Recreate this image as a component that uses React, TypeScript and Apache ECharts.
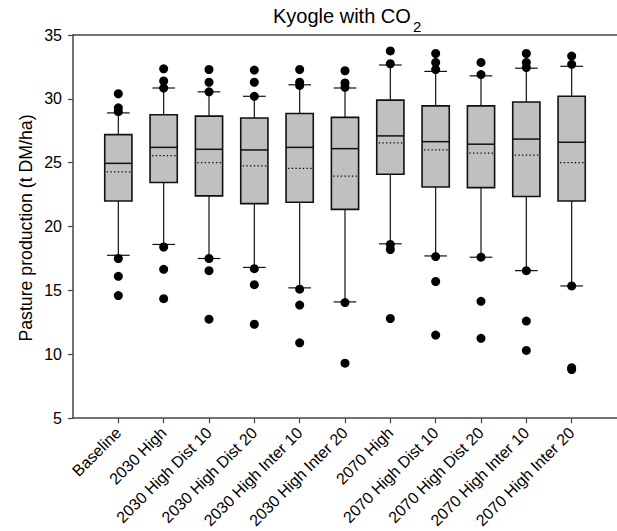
import React, { useEffect, useRef } from "react";
import * as echarts from "echarts";

const categories = [
  "Baseline",
  "2030 High",
  "2030 High Dist 10",
  "2030 High Dist 20",
  "2030 High Inter 10",
  "2030 High Inter 20",
  "2070 High",
  "2070 High Dist 10",
  "2070 High Dist 20",
  "2070 High Inter 10",
  "2070 High Inter 20",
];

const whiskerLow = [17.75, 18.6, 17.5, 16.8, 15.2, 14.1, 18.65, 17.7, 17.6, 16.55, 15.35];
const q1 = [22.0, 23.45, 22.4, 21.8, 21.9, 21.35, 24.1, 23.1, 23.05, 22.35, 22.0];
const medians = [24.95, 26.2, 26.05, 26.0, 26.2, 26.1, 27.1, 26.65, 26.45, 26.85, 26.6];
const q3 = [27.2, 28.75, 28.65, 28.5, 28.85, 28.55, 29.9, 29.45, 29.45, 29.75, 30.2];
const whiskerHigh = [28.9, 30.85, 30.55, 30.2, 31.1, 30.85, 32.65, 32.15, 31.8, 32.4, 32.55];
const means = [24.28, 25.55, 25.0, 24.75, 24.55, 23.95, 26.55, 26.0, 25.75, 25.6, 25.0];
const outliers = [
  [30.4, 29.3, 29.0, 17.5, 16.1, 14.6],
  [32.35, 31.4, 30.85, 18.4, 16.65, 14.35],
  [32.3, 31.3, 30.55, 17.5, 16.55, 12.75],
  [32.25, 31.3, 30.2, 16.7, 15.45, 12.35],
  [32.3, 31.3, 31.05, 15.1, 13.85, 10.9],
  [32.2, 31.25, 30.9, 14.05, 9.3],
  [33.75, 32.75, 18.6, 18.2, 12.8],
  [33.55, 32.85, 32.3, 17.65, 15.7, 11.5],
  [32.85, 31.9, 17.6, 14.15, 11.25],
  [33.55, 32.85, 32.45, 16.55, 12.6, 10.3],
  [33.35, 32.7, 15.35, 8.95, 8.8],
];
const yTicks = { min: 5, max: 35, interval: 5 };

const FONT = "'Liberation Sans', Arial, Helvetica, sans-serif";

export default function App() {
  const ref = useRef<HTMLDivElement>(null);
  useEffect(() => {
    if (!ref.current) return;
    const chart = echarts.init(ref.current, null, { renderer: "svg" });
    const boxData = categories.map((_, k) => [
      k + 1,
      whiskerLow[k],
      q1[k],
      medians[k],
      q3[k],
      whiskerHigh[k],
      means[k],
    ]);
    const outlierData: number[][] = [];
    outliers.forEach((arr, k) => arr.forEach((v) => outlierData.push([k + 1, v])));
    const tickVals = categories.map((_, k) => k + 1);

    chart.setOption({
      animation: false,
      textStyle: { fontFamily: FONT },
      grid: { left: 73, top: 35, width: 551, height: 386, containLabel: false },
      xAxis: [
        {
          type: "value",
          position: "bottom",
          min: 0,
          max: 12,
          interval: 1,
          splitLine: { show: false },
          axisLine: { show: true, onZero: false, lineStyle: { color: "#444", width: 1.5 } },
          axisTick: {
            show: true,
            length: 5,
            customValues: tickVals,
            lineStyle: { color: "#444", width: 1.2 },
          },
          axisLabel: {
            customValues: tickVals,
            rotate: 45,
            margin: 12,
            fontSize: 16,
            color: "#000",
            fontFamily: FONT,
            formatter: (v: number) => categories[Math.round(v) - 1] ?? "",
          },
        },
        {
          type: "value",
          position: "top",
          min: 0,
          max: 12,
          splitLine: { show: false },
          axisLine: { show: true, onZero: false, lineStyle: { color: "#444", width: 1.5 } },
          axisTick: { show: false },
          axisLabel: { show: false },
        },
      ],
      yAxis: {
        type: "value",
        min: yTicks.min,
        max: yTicks.max,
        interval: yTicks.interval,
        splitLine: { show: false },
        axisLine: { show: true, onZero: false, lineStyle: { color: "#444", width: 1.5 } },
        axisTick: { show: true, length: 5, lineStyle: { color: "#444", width: 1.2 } },
        axisLabel: { fontSize: 16, color: "#000", margin: 11, fontFamily: FONT },
      },
      graphic: [
        {
          type: "text",
          left: 273,
          top: 6,
          style: { text: "Kyogle with CO", fontSize: 20, fill: "#000", fontFamily: FONT },
        },
        {
          type: "text",
          left: 413,
          top: 19,
          style: { text: "2", fontSize: 15, fill: "#000", fontFamily: FONT },
        },
        {
          type: "text",
          x: 26,
          y: 228,
          rotation: Math.PI / 2,
          style: {
            text: "Pasture production (t DM/ha)",
            fontSize: 17.7,
            fill: "#000",
            fontFamily: FONT,
            align: "center",
            verticalAlign: "middle",
          },
        },
      ],
      series: [
        {
          type: "custom",
          xAxisIndex: 0,
          yAxisIndex: 0,
          data: boxData,
          encode: { x: 0, y: [1, 2, 3, 4, 5, 6] },
          renderItem: (params: any, api: any) => {
            const i = api.value(0);
            const slot = api.size([1, 0])[0];
            const bw = slot * 0.6;
            const cw = slot * 0.5;
            const x = api.coord([i, api.value(1)])[0];
            const yLo = api.coord([i, api.value(1)])[1];
            const yQ1 = api.coord([i, api.value(2)])[1];
            const yMed = api.coord([i, api.value(3)])[1];
            const yQ3 = api.coord([i, api.value(4)])[1];
            const yHi = api.coord([i, api.value(5)])[1];
            const yMean = api.coord([i, api.value(6)])[1];
            const ws = { stroke: "#111", lineWidth: 1.2 };
            return {
              type: "group",
              children: [
                { type: "line", shape: { x1: x, y1: yHi, x2: x, y2: yQ3 }, style: ws },
                { type: "line", shape: { x1: x, y1: yQ1, x2: x, y2: yLo }, style: ws },
                { type: "line", shape: { x1: x - cw / 2, y1: yHi, x2: x + cw / 2, y2: yHi }, style: ws },
                { type: "line", shape: { x1: x - cw / 2, y1: yLo, x2: x + cw / 2, y2: yLo }, style: ws },
                {
                  type: "rect",
                  shape: { x: x - bw / 2, y: yQ3, width: bw, height: yQ1 - yQ3 },
                  style: { fill: "#c0c0c0", stroke: "#111", lineWidth: 1.6 },
                },
                {
                  type: "line",
                  shape: { x1: x - bw / 2, y1: yMed, x2: x + bw / 2, y2: yMed },
                  style: { stroke: "#111", lineWidth: 1.5 },
                },
                {
                  type: "line",
                  shape: { x1: x - bw / 2 + 2, y1: yMean, x2: x + bw / 2 - 1, y2: yMean },
                  style: { stroke: "#000", lineWidth: 1.3, lineDash: [1.3, 2.4] },
                },
              ],
            };
          },
          z: 2,
        },
        {
          type: "scatter",
          xAxisIndex: 0,
          yAxisIndex: 0,
          data: outlierData,
          symbol: "circle",
          symbolSize: 9,
          itemStyle: { color: "#000", opacity: 1 },
          z: 3,
        },
      ],
    });
    return () => chart.dispose();
  }, []);
  return (
    <div
      ref={ref}
      style={{ position: "fixed", left: 0, top: 0, width: 617, height: 531, background: "#fff" }}
    />
  );
}
